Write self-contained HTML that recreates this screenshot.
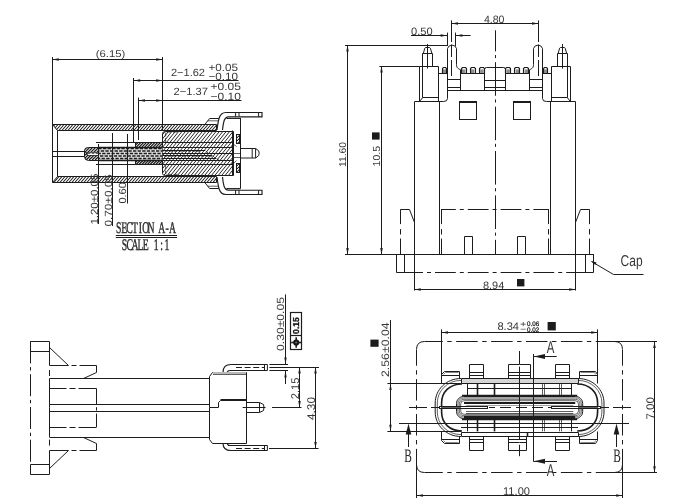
<!DOCTYPE html>
<html lang="en"><head><meta charset="utf-8"><title>Connector drawing</title>
<style>
html,body{margin:0;padding:0;background:#fff;}
body{width:690px;height:500px;overflow:hidden;}
svg{display:block;filter:grayscale(1);text-rendering:geometricPrecision;}
.l{stroke:#1c1c1c;stroke-width:1;fill:none;}
.k{stroke:#1c1c1c;stroke-width:1.6;fill:none;}
.kk{stroke:#1c1c1c;stroke-width:2.4;fill:none;}
.n{stroke:#1c1c1c;stroke-width:.7;fill:none;}
.g{stroke:#8a8a8a;stroke-width:1;fill:none;}
.h{stroke:#1c1c1c;stroke-width:1;}
.w{stroke:#1c1c1c;stroke-width:1;fill:#fff;}
.cd{stroke:#1c1c1c;stroke-width:1;fill:none;stroke-dasharray:17 3 3 3;}
.cs{stroke:#1c1c1c;stroke-width:1;fill:none;stroke-dasharray:8 3;}
.a{fill:#1c1c1c;stroke:none;}
.b{fill:#1c1c1c;stroke:none;}
.t{font-family:"Liberation Sans",sans-serif;fill:#383838;}
.ts{font-family:"Liberation Serif",serif;fill:#2a2a2a;}
.tb{font-family:"Liberation Sans",sans-serif;font-weight:bold;fill:#111;}
</style></head><body>
<svg width="690" height="500" viewBox="0 0 690 500">
<defs>
<pattern id="h3" width="2.2" height="2.2" patternUnits="userSpaceOnUse" patternTransform="rotate(-45)"><rect width="2.2" height="2.2" fill="#fff"/><line x1="0" y1="1" x2="2.2" y2="1" stroke="#1c1c1c" stroke-width=".9"/></pattern>
</defs>
<rect width="690" height="500" fill="#fff"/>
<g id="v1">
<clipPath id="c1"><path d="M57.5 130.5L52.5 124.5H216.5V130.5Z"/></clipPath>
<path d="M57.5 130.5L52.5 124.5H216.5V130.5Z" fill="#fff" stroke="none"/>
<path d="M43.90 130.5L49.00 124.5 M46.90 130.5L52.00 124.5 M49.90 130.5L55.00 124.5 M52.90 130.5L58.00 124.5 M55.90 130.5L61.00 124.5 M58.90 130.5L64.00 124.5 M61.90 130.5L67.00 124.5 M64.90 130.5L70.00 124.5 M67.90 130.5L73.00 124.5 M70.90 130.5L76.00 124.5 M73.90 130.5L79.00 124.5 M76.90 130.5L82.00 124.5 M79.90 130.5L85.00 124.5 M82.90 130.5L88.00 124.5 M85.90 130.5L91.00 124.5 M88.90 130.5L94.00 124.5 M91.90 130.5L97.00 124.5 M94.90 130.5L100.00 124.5 M97.90 130.5L103.00 124.5 M100.90 130.5L106.00 124.5 M103.90 130.5L109.00 124.5 M106.90 130.5L112.00 124.5 M109.90 130.5L115.00 124.5 M112.90 130.5L118.00 124.5 M115.90 130.5L121.00 124.5 M118.90 130.5L124.00 124.5 M121.90 130.5L127.00 124.5 M124.90 130.5L130.00 124.5 M127.90 130.5L133.00 124.5 M130.90 130.5L136.00 124.5 M133.90 130.5L139.00 124.5 M136.90 130.5L142.00 124.5 M139.90 130.5L145.00 124.5 M142.90 130.5L148.00 124.5 M145.90 130.5L151.00 124.5 M148.90 130.5L154.00 124.5 M151.90 130.5L157.00 124.5 M154.90 130.5L160.00 124.5 M157.90 130.5L163.00 124.5 M160.90 130.5L166.00 124.5 M163.90 130.5L169.00 124.5 M166.90 130.5L172.00 124.5 M169.90 130.5L175.00 124.5 M172.90 130.5L178.00 124.5 M175.90 130.5L181.00 124.5 M178.90 130.5L184.00 124.5 M181.90 130.5L187.00 124.5 M184.90 130.5L190.00 124.5 M187.90 130.5L193.00 124.5 M190.90 130.5L196.00 124.5 M193.90 130.5L199.00 124.5 M196.90 130.5L202.00 124.5 M199.90 130.5L205.00 124.5 M202.90 130.5L208.00 124.5 M205.90 130.5L211.00 124.5 M208.90 130.5L214.00 124.5 M211.90 130.5L217.00 124.5 M214.90 130.5L220.00 124.5 M217.90 130.5L223.00 124.5" stroke="#1c1c1c" stroke-width="1.05" fill="none" clip-path="url(#c1)"/>
<path class="l" d="M57.5 130.5L52.5 124.5H216.5V130.5Z"/>
<clipPath id="c2"><path d="M57.5 176.5L52.5 182.5H216.5V176.5Z"/></clipPath>
<path d="M57.5 176.5L52.5 182.5H216.5V176.5Z" fill="#fff" stroke="none"/>
<path d="M44.90 182.5L50.00 176.5 M47.90 182.5L53.00 176.5 M50.90 182.5L56.00 176.5 M53.90 182.5L59.00 176.5 M56.90 182.5L62.00 176.5 M59.90 182.5L65.00 176.5 M62.90 182.5L68.00 176.5 M65.90 182.5L71.00 176.5 M68.90 182.5L74.00 176.5 M71.90 182.5L77.00 176.5 M74.90 182.5L80.00 176.5 M77.90 182.5L83.00 176.5 M80.90 182.5L86.00 176.5 M83.90 182.5L89.00 176.5 M86.90 182.5L92.00 176.5 M89.90 182.5L95.00 176.5 M92.90 182.5L98.00 176.5 M95.90 182.5L101.00 176.5 M98.90 182.5L104.00 176.5 M101.90 182.5L107.00 176.5 M104.90 182.5L110.00 176.5 M107.90 182.5L113.00 176.5 M110.90 182.5L116.00 176.5 M113.90 182.5L119.00 176.5 M116.90 182.5L122.00 176.5 M119.90 182.5L125.00 176.5 M122.90 182.5L128.00 176.5 M125.90 182.5L131.00 176.5 M128.90 182.5L134.00 176.5 M131.90 182.5L137.00 176.5 M134.90 182.5L140.00 176.5 M137.90 182.5L143.00 176.5 M140.90 182.5L146.00 176.5 M143.90 182.5L149.00 176.5 M146.90 182.5L152.00 176.5 M149.90 182.5L155.00 176.5 M152.90 182.5L158.00 176.5 M155.90 182.5L161.00 176.5 M158.90 182.5L164.00 176.5 M161.90 182.5L167.00 176.5 M164.90 182.5L170.00 176.5 M167.90 182.5L173.00 176.5 M170.90 182.5L176.00 176.5 M173.90 182.5L179.00 176.5 M176.90 182.5L182.00 176.5 M179.90 182.5L185.00 176.5 M182.90 182.5L188.00 176.5 M185.90 182.5L191.00 176.5 M188.90 182.5L194.00 176.5 M191.90 182.5L197.00 176.5 M194.90 182.5L200.00 176.5 M197.90 182.5L203.00 176.5 M200.90 182.5L206.00 176.5 M203.90 182.5L209.00 176.5 M206.90 182.5L212.00 176.5 M209.90 182.5L215.00 176.5 M212.90 182.5L218.00 176.5 M215.90 182.5L221.00 176.5 M218.90 182.5L224.00 176.5" stroke="#1c1c1c" stroke-width="1.05" fill="none" clip-path="url(#c2)"/>
<path class="l" d="M57.5 176.5L52.5 182.5H216.5V176.5Z"/>
<path class="l" d="M52.5 124.5V182.5M57.5 130.5V176.5" />
<clipPath id="c3"><path d="M165.5 131.5H233.5V175.5H165.5Q162.5 175.5 162.5 173.5V133.5Q162.5 131.5 165.5 131.5Z"/></clipPath>
<path d="M165.5 131.5H233.5V175.5H165.5Q162.5 175.5 162.5 173.5V133.5Q162.5 131.5 165.5 131.5Z" fill="#fff" stroke="none"/>
<path d="M123.08 175.4L158.60 131 M126.48 175.4L162.00 131 M129.88 175.4L165.40 131 M133.28 175.4L168.80 131 M136.68 175.4L172.20 131 M140.08 175.4L175.60 131 M143.48 175.4L179.00 131 M146.88 175.4L182.40 131 M150.28 175.4L185.80 131 M153.68 175.4L189.20 131 M157.08 175.4L192.60 131 M160.48 175.4L196.00 131 M163.88 175.4L199.40 131 M167.28 175.4L202.80 131 M170.68 175.4L206.20 131 M174.08 175.4L209.60 131 M177.48 175.4L213.00 131 M180.88 175.4L216.40 131 M184.28 175.4L219.80 131 M187.68 175.4L223.20 131 M191.08 175.4L226.60 131 M194.48 175.4L230.00 131 M197.88 175.4L233.40 131 M201.28 175.4L236.80 131 M204.68 175.4L240.20 131 M208.08 175.4L243.60 131 M211.48 175.4L247.00 131 M214.88 175.4L250.40 131 M218.28 175.4L253.80 131 M221.68 175.4L257.20 131 M225.08 175.4L260.60 131 M228.48 175.4L264.00 131 M231.88 175.4L267.40 131 M235.28 175.4L270.80 131" stroke="#1c1c1c" stroke-width="0.95" fill="none" clip-path="url(#c3)"/>
<path class="l" d="M165.5 131.5H233.5V175.5H165.5Q162.5 175.5 162.5 173.5V133.5Q162.5 131.5 165.5 131.5Z"/>
<clipPath id="c4"><path d="M135.5 142.5H162.5V147.5H135.5Z"/></clipPath>
<path d="M135.5 142.5H162.5V147.5H135.5Z" fill="#fff" stroke="none"/>
<path d="M127.90 147.1L132.20 142.8 M130.70 147.1L135.00 142.8 M133.50 147.1L137.80 142.8 M136.30 147.1L140.60 142.8 M139.10 147.1L143.40 142.8 M141.90 147.1L146.20 142.8 M144.70 147.1L149.00 142.8 M147.50 147.1L151.80 142.8 M150.30 147.1L154.60 142.8 M153.10 147.1L157.40 142.8 M155.90 147.1L160.20 142.8 M158.70 147.1L163.00 142.8 M161.50 147.1L165.80 142.8 M164.30 147.1L168.60 142.8" stroke="#1c1c1c" stroke-width="1.25" fill="none" clip-path="url(#c4)"/>
<path class="l" d="M135.5 142.5H162.5V147.5H135.5Z"/>
<clipPath id="c5"><path d="M135.5 160.5H162.5V164.5H135.5Z"/></clipPath>
<path d="M135.5 160.5H162.5V164.5H135.5Z" fill="#fff" stroke="none"/>
<path d="M128.00 164.2L132.20 160 M130.80 164.2L135.00 160 M133.60 164.2L137.80 160 M136.40 164.2L140.60 160 M139.20 164.2L143.40 160 M142.00 164.2L146.20 160 M144.80 164.2L149.00 160 M147.60 164.2L151.80 160 M150.40 164.2L154.60 160 M153.20 164.2L157.40 160 M156.00 164.2L160.20 160 M158.80 164.2L163.00 160 M161.60 164.2L165.80 160 M164.40 164.2L168.60 160" stroke="#1c1c1c" stroke-width="1.25" fill="none" clip-path="url(#c5)"/>
<path class="l" d="M135.5 160.5H162.5V164.5H135.5Z"/>
<clipPath id="c6"><path d="M98.5 147.5H88.5Q84.5 147.5 84.5 150.5V156.5Q84.5 160.5 88.5 160.5H98.5Z"/></clipPath>
<path d="M98.5 147.5H88.5Q84.5 147.5 84.5 150.5V156.5Q84.5 160.5 88.5 160.5H98.5Z" fill="#fff" stroke="none"/>
<path d="M68.10 160L81.00 147.1 M71.10 160L84.00 147.1 M74.10 160L87.00 147.1 M77.10 160L90.00 147.1 M80.10 160L93.00 147.1 M83.10 160L96.00 147.1 M86.10 160L99.00 147.1 M89.10 160L102.00 147.1 M92.10 160L105.00 147.1 M95.10 160L108.00 147.1 M98.10 160L111.00 147.1 M101.10 160L114.00 147.1" stroke="#1c1c1c" stroke-width="1.3" fill="none" clip-path="url(#c6)"/>
<rect class="n" x="87.5" y="152.3" width="10.90" height="2.70"  style="fill:#fff;stroke:none"/>
<path class="l" d="M233.5 147.5H88.5Q84.5 147.5 84.5 150.5V156.5Q84.5 160.5 88.5 160.5H233.5" />
<line class="n" x1="87.5" y1="152.5" x2="98.4" y2="152.5" />
<line class="n" x1="87.5" y1="155.5" x2="98.4" y2="155.5" />
<rect x="98.4" y="147" width="64" height="13.2" fill="#dedede"/>
<line class="l" x1="98.4" y1="148.5" x2="162.4" y2="148.5"  style="stroke-width:1.35;stroke-dasharray:3.3 1.3;stroke-dashoffset:0"/>
<line class="l" x1="98.4" y1="151" x2="162.4" y2="151"  style="stroke-width:1.35;stroke-dasharray:3.3 1.3;stroke-dashoffset:2.2"/>
<line class="l" x1="98.4" y1="153.5" x2="162.4" y2="153.5"  style="stroke-width:1.35;stroke-dasharray:3.3 1.3;stroke-dashoffset:0.8"/>
<line class="l" x1="98.4" y1="156" x2="162.4" y2="156"  style="stroke-width:1.35;stroke-dasharray:3.3 1.3;stroke-dashoffset:3.0"/>
<line class="l" x1="98.4" y1="158.5" x2="162.4" y2="158.5"  style="stroke-width:1.35;stroke-dasharray:3.3 1.3;stroke-dashoffset:1.4"/>
<line class="k" x1="98.4" y1="147.5" x2="162.4" y2="147.5" />
<line class="k" x1="98.4" y1="160.5" x2="162.4" y2="160.5" />
<line class="l" x1="162.4" y1="151" x2="200" y2="151"  style="stroke-width:1.1;stroke-dasharray:3.3 1.3;stroke-dashoffset:2.2"/>
<line class="l" x1="162.4" y1="153.5" x2="206" y2="153.5"  style="stroke-width:1.1;stroke-dasharray:3.3 1.3;stroke-dashoffset:0.8"/>
<line class="l" x1="162.4" y1="156" x2="212" y2="156"  style="stroke-width:1.1;stroke-dasharray:3.3 1.3;stroke-dashoffset:3.0"/>
<line class="n" x1="88" y1="153.5" x2="98" y2="153.5"  style="stroke-dasharray:2.4 1.4"/>
<line class="l" x1="162.4" y1="150.5" x2="205" y2="150.5" />
<line class="l" x1="162.4" y1="155.5" x2="212" y2="155.5" />
<line class="l" x1="162.4" y1="153.5" x2="233" y2="153.5" />
<line class="l" x1="162.4" y1="158.5" x2="216" y2="158.5" />
<path class="n" d="M165.6 142V133.4Q165.6 132 167 132H178 M165.6 165V173Q165.6 174.4 167 174.4H178"  style="stroke-dasharray:4 1.5"/>
<line class="l" x1="135.4" y1="142.5" x2="233" y2="142.5" />
<line class="l" x1="135.4" y1="164.5" x2="233" y2="164.5" />
<path class="n" d="M84.5 152.5H87.5V154.5H84.5" />
<line class="l" x1="96" y1="142.5" x2="135.4" y2="142.5" />
<line class="l" x1="96" y1="164.5" x2="135.4" y2="164.5" />
<line class="l" x1="52.4" y1="151.5" x2="84.4" y2="151.5" />
<line class="l" x1="52.4" y1="156.5" x2="84.4" y2="156.5" />
<path class="n" d="M205.5 150.5L208.5 153.5M212.5 155.5L215.5 158.5M216.5 158.5L219.5 160.5" />
<line class="l" x1="240.5" y1="118" x2="240.5" y2="188.6" />
<path class="l" d="M232.5 130.5V175.5" />
<rect class="h" x="236.5" y="134.5" width="3.00" height="9.00"  style="fill:url(#h3)"/>
<rect class="h" x="236.5" y="163.5" width="3.00" height="9.00"  style="fill:url(#h3)"/>
<path class="n" d="M232.5 143.5L236.5 146.5M232.5 164.5L236.5 160.5" />
<line class="n" x1="233" y1="153.5" x2="240.5" y2="153.5" />
<line class="n" x1="233" y1="157.5" x2="240.5" y2="157.5" />
<path class="l" d="M240.5 148.5H255.6L258.6 150.7Q259.8 153.2 258.6 155.7L255.6 158H240.5 M252.2 148.5V158 M255.6 148.5V158" />
<path class="l" d="M217 130C217.5 126 218 122 219 118.5C220 115 222 112.5 226 112.5H262V116.8H228.5C226 116.8 224.8 118.5 224 121C223.2 124 222.8 127 222.5 130"  style="stroke-width:1.15"/>
<path class="l" d="M204.8 124.5L209.6 118.5H218.8" />
<line class="n" x1="207.8" y1="120.8" x2="218.4" y2="120.8" />
<line class="l" x1="226.5" y1="118.5" x2="240.5" y2="118.5" />
<line class="g" x1="228" y1="117.6" x2="240.5" y2="117.6" />
<line class="l" x1="235.6" y1="112.5" x2="235.6" y2="116.8" />
<line class="l" x1="239" y1="112.5" x2="239" y2="116.8" />
<line class="l" x1="258.6" y1="112.5" x2="258.6" y2="116.8" />
<path class="l" d="M217 177.0C217.5 181.0 218 185.0 219 188.5C220 192.0 222 194.5 226 194.5H262V190.2H228.5C226 190.2 224.8 188.5 224 186.0C223.2 183.0 222.8 180.0 222.5 177.0"  style="stroke-width:1.15"/>
<path class="l" d="M204.8 182.5L209.6 188.5H218.8" />
<line class="n" x1="207.8" y1="186.2" x2="218.4" y2="186.2" />
<line class="l" x1="226.5" y1="188.5" x2="240.5" y2="188.5" />
<line class="g" x1="228" y1="189.4" x2="240.5" y2="189.4" />
<line class="l" x1="235.6" y1="194.5" x2="235.6" y2="190.2" />
<line class="l" x1="239" y1="194.5" x2="239" y2="190.2" />
<line class="l" x1="258.6" y1="194.5" x2="258.6" y2="190.2" />
<line class="l" x1="52.5" y1="57" x2="52.5" y2="124.6" />
<line class="l" x1="162.5" y1="57" x2="162.5" y2="131" />
<line class="l" x1="52.4" y1="59.5" x2="162.6" y2="59.5" />
<polygon class="a" points="52.40,59.50 58.80,58.25 58.80,60.75"/>
<polygon class="a" points="162.60,59.50 156.20,58.25 156.20,60.75"/>
<text class="t" x="110.6" y="56.6" font-size="9.8" text-anchor="middle" textLength="29.6" lengthAdjust="spacingAndGlyphs" >(6.15)</text>
<line class="l" x1="133.5" y1="78" x2="133.5" y2="143" />
<line class="l" x1="133.8" y1="80.5" x2="238.5" y2="80.5" />
<polygon class="a" points="133.80,80.50 140.20,79.25 140.20,81.75"/>
<polygon class="a" points="162.60,80.50 156.20,79.25 156.20,81.75"/>
<text class="t" x="171" y="75.6" font-size="10.5" text-anchor="start" textLength="34" lengthAdjust="spacingAndGlyphs" >2−1.62</text>
<text class="t" x="208.4" y="70.8" font-size="10.5" text-anchor="start" textLength="29.6" lengthAdjust="spacingAndGlyphs" >+0.05</text>
<text class="t" x="208.4" y="80" font-size="10.5" text-anchor="start" textLength="29.6" lengthAdjust="spacingAndGlyphs" >−0.10</text>
<line class="l" x1="138.5" y1="97.6" x2="138.5" y2="140" />
<line class="l" x1="138.6" y1="100.5" x2="241.5" y2="100.5" />
<polygon class="a" points="138.60,100.50 145.00,99.25 145.00,101.75"/>
<polygon class="a" points="162.60,100.50 156.20,99.25 156.20,101.75"/>
<text class="t" x="173.6" y="95.4" font-size="10.5" text-anchor="start" textLength="34.4" lengthAdjust="spacingAndGlyphs" >2−1.37</text>
<text class="t" x="210.6" y="90.4" font-size="10.5" text-anchor="start" textLength="30.4" lengthAdjust="spacingAndGlyphs" >+0.05</text>
<text class="t" x="210.6" y="99.8" font-size="10.5" text-anchor="start" textLength="30.4" lengthAdjust="spacingAndGlyphs" >−0.10</text>
<line class="l" x1="98.5" y1="144" x2="98.5" y2="224" />
<line class="l" x1="112.5" y1="133" x2="112.5" y2="226" />
<line class="l" x1="127.5" y1="134" x2="127.5" y2="203.5" />
<text class="t" x="97.8" y="224.6" font-size="10.4" text-anchor="start" textLength="51" lengthAdjust="spacingAndGlyphs" transform="rotate(-90 97.8 224.6)" >1.20±0.05</text>
<text class="t" x="112" y="226.6" font-size="10.4" text-anchor="start" textLength="52.5" lengthAdjust="spacingAndGlyphs" transform="rotate(-90 112 226.6)" >0.70±0.05</text>
<text class="t" x="126.2" y="203.6" font-size="10.4" text-anchor="start" textLength="21.5" lengthAdjust="spacingAndGlyphs" transform="rotate(-90 126.2 203.6)" >0.60</text>
<text class="ts" transform="translate(116.1,232.7) scale(0.6,1)" font-size="16.2" text-anchor="middle" x="4.48 13.45 22.42 31.38 40.35 49.32 58.28 67.25 76.22 85.18 94.15" y="0" style="stroke:#2a2a2a;stroke-width:.4;vector-effect:non-scaling-stroke">SECTION A-A</text>
<line class="l" x1="115.8" y1="235.5" x2="177" y2="235.5" />
<line class="l" x1="115.8" y1="237.5" x2="177" y2="237.5" />
<text class="ts" transform="translate(121.8,249.8) scale(0.6,1)" font-size="16.2" text-anchor="middle" x="4.42 13.25 22.08 30.92 39.75 48.58 57.42 66.25 75.08" y="0" style="stroke:#2a2a2a;stroke-width:.4;vector-effect:non-scaling-stroke">SCALE 1:1</text>
</g>
<g id="v2">
<path class="l" d="M414.5 290.5V101.5H443.5Q447.5 101.5 447.5 98.5V48.5A4.7 4.7 0 0 1 456.5 48.5V64.5C456.5 68.5 458.5 68.5 461.5 70.5" />
<line class="l" x1="439.5" y1="101.5" x2="439.5" y2="254.4" />
<path class="l" d="M419.5 101.5V66.5H438.5V101.5" />
<path class="l" d="M422.5 66.5V97.5H438.5" />
<path class="l" d="M419.6 101.5L422.8 97.4" />
<path class="l" d="M422.5 66.5V53.5M432.5 53.5V66.5M422.5 53.5H432.5" />
<path class="l" d="M423.3 53.5L424.8 48.2L425.6 47.5H429.6L430.4 48.2L431.9 53.5" />
<line class="l" x1="427.5" y1="44" x2="427.5" y2="68.6" />
<rect x="442.8" y="69.4" width="3.40" height="4.4" fill="#8e8e8e"/>
<path class="l" d="M442.5 73.5V68.5L443.5 67.5H445.5L446.5 68.5V73.5"  style="stroke-width:1.15"/>
<rect x="461.8" y="69.4" width="3.60" height="4.4" fill="#8e8e8e"/>
<path class="l" d="M461.5 73.5V68.5L462.5 67.5H465.5L466.5 68.5V73.5"  style="stroke-width:1.15"/>
<rect x="470.8" y="69.4" width="3.60" height="4.4" fill="#8e8e8e"/>
<path class="l" d="M470.5 73.5V68.5L471.5 67.5H474.5L475.5 68.5V73.5"  style="stroke-width:1.15"/>
<rect x="480.2" y="69.4" width="3.40" height="4.4" fill="#8e8e8e"/>
<path class="l" d="M479.5 73.5V68.5L480.5 67.5H483.5L484.5 68.5V73.5"  style="stroke-width:1.15"/>
<line class="l" x1="438.4" y1="73.5" x2="447" y2="73.5" />
<line class="l" x1="460.4" y1="73.5" x2="484.4" y2="73.5" />
<line class="l" x1="460.5" y1="70" x2="460.5" y2="90" />
<line class="l" x1="447" y1="79.5" x2="460.4" y2="79.5" />
<line class="l" x1="447" y1="87.5" x2="460.4" y2="87.5" />
<line class="l" x1="447" y1="90.5" x2="495.5" y2="90.5" />
<path class="l" d="M484.5 90.5V69.5Q484.5 67.5 486.5 67.5H495.5M484.5 80.5H495.5M484.5 87.5H495.5" />
<rect class="l" x="459.5" y="101.5" width="17.00" height="18.00" />
<line class="l" x1="459.4" y1="102.5" x2="476" y2="102.5" />
<line class="l" x1="441.5" y1="209.4" x2="441.5" y2="254.4"  style="stroke-dasharray:14.7 5 5.4 4 20"/>
<path class="l" d="M464.5 254.5V236.5H472.5V254.5" />
<path class="l" d="M414.5 222.5L409.5 209.5H400.5" />
<line class="l" x1="400.5" y1="209.4" x2="400.5" y2="254.4"  style="stroke-dasharray:14.7 5 5.4 4 20"/>
<path class="l" d="M396.5 254.5V272.5H414.5M404.5 254.5V272.5" />
<line class="cd" x1="451.5" y1="20.4" x2="451.5" y2="76"  style="stroke-dasharray:21.6 2.5 12.5 3 16"/>
<g transform="translate(990,0) scale(-1,1)">
<path class="l" d="M414.5 290.5V101.5H443.5Q447.5 101.5 447.5 98.5V48.5A4.7 4.7 0 0 1 456.5 48.5V64.5C456.5 68.5 458.5 68.5 461.5 70.5" />
<line class="l" x1="439.5" y1="101.5" x2="439.5" y2="254.4" />
<path class="l" d="M419.5 101.5V66.5H438.5V101.5" />
<path class="l" d="M422.5 66.5V97.5H438.5" />
<path class="l" d="M419.6 101.5L422.8 97.4" />
<path class="l" d="M422.5 66.5V53.5M432.5 53.5V66.5M422.5 53.5H432.5" />
<path class="l" d="M423.3 53.5L424.8 48.2L425.6 47.5H429.6L430.4 48.2L431.9 53.5" />
<line class="l" x1="427.5" y1="44" x2="427.5" y2="68.6" />
<rect x="442.8" y="69.4" width="3.40" height="4.4" fill="#8e8e8e"/>
<path class="l" d="M442.5 73.5V68.5L443.5 67.5H445.5L446.5 68.5V73.5"  style="stroke-width:1.15"/>
<rect x="461.8" y="69.4" width="3.60" height="4.4" fill="#8e8e8e"/>
<path class="l" d="M461.5 73.5V68.5L462.5 67.5H465.5L466.5 68.5V73.5"  style="stroke-width:1.15"/>
<rect x="470.8" y="69.4" width="3.60" height="4.4" fill="#8e8e8e"/>
<path class="l" d="M470.5 73.5V68.5L471.5 67.5H474.5L475.5 68.5V73.5"  style="stroke-width:1.15"/>
<rect x="480.2" y="69.4" width="3.40" height="4.4" fill="#8e8e8e"/>
<path class="l" d="M479.5 73.5V68.5L480.5 67.5H483.5L484.5 68.5V73.5"  style="stroke-width:1.15"/>
<line class="l" x1="438.4" y1="73.5" x2="447" y2="73.5" />
<line class="l" x1="460.4" y1="73.5" x2="484.4" y2="73.5" />
<line class="l" x1="460.5" y1="70" x2="460.5" y2="90" />
<line class="l" x1="447" y1="79.5" x2="460.4" y2="79.5" />
<line class="l" x1="447" y1="87.5" x2="460.4" y2="87.5" />
<line class="l" x1="447" y1="90.5" x2="495.5" y2="90.5" />
<path class="l" d="M484.5 90.5V69.5Q484.5 67.5 486.5 67.5H495.5M484.5 80.5H495.5M484.5 87.5H495.5" />
<rect class="l" x="459.5" y="101.5" width="17.00" height="18.00" />
<line class="l" x1="459.4" y1="102.5" x2="476" y2="102.5" />
<line class="l" x1="441.5" y1="209.4" x2="441.5" y2="254.4"  style="stroke-dasharray:14.7 5 5.4 4 20"/>
<path class="l" d="M464.5 254.5V236.5H472.5V254.5" />
<path class="l" d="M414.5 222.5L409.5 209.5H400.5" />
<line class="l" x1="400.5" y1="209.4" x2="400.5" y2="254.4"  style="stroke-dasharray:14.7 5 5.4 4 20"/>
<path class="l" d="M396.5 254.5V272.5H414.5M404.5 254.5V272.5" />
<line class="cd" x1="451.5" y1="20.4" x2="451.5" y2="76"  style="stroke-dasharray:21.6 2.5 12.5 3 16"/>
</g>
<line class="l" x1="441" y1="209.5" x2="549" y2="209.5"  style="stroke-dasharray:20.8 4 4 4;stroke-dashoffset:6"/>
<line class="l" x1="414.4" y1="272.5" x2="575.6" y2="272.5"  style="stroke-dasharray:20.8 4 4 4;stroke-dashoffset:12.2"/>
<line class="l" x1="345" y1="254.5" x2="594" y2="254.5" />
<line class="cd" x1="495.5" y1="30.3" x2="495.5" y2="254.4"  style="stroke-dasharray:33.6 3.6 3.1 4.1;stroke-dashoffset:12.5"/>
<line class="l" x1="451.6" y1="23.5" x2="538.4" y2="23.5" />
<polygon class="a" points="451.60,23.50 458.00,22.25 458.00,24.75"/>
<polygon class="a" points="538.40,23.50 532.00,22.25 532.00,24.75"/>
<text class="t" x="494.2" y="23.2" font-size="10.6" text-anchor="middle" textLength="20.6" lengthAdjust="spacingAndGlyphs" >4.80</text>
<line class="l" x1="411" y1="35.5" x2="447" y2="35.5" />
<polygon class="a" points="447.00,35.50 440.60,34.25 440.60,36.75"/>
<line class="l" x1="456" y1="35.5" x2="470.6" y2="35.5" />
<polygon class="a" points="456.00,35.50 462.40,34.25 462.40,36.75"/>
<line class="l" x1="447.5" y1="32.6" x2="447.5" y2="46" />
<line class="l" x1="455.5" y1="32.6" x2="455.5" y2="46" />
<text class="t" x="411" y="35.3" font-size="10.6" text-anchor="start" textLength="21.6" lengthAdjust="spacingAndGlyphs" >0.50</text>
<line class="l" x1="345" y1="45.5" x2="447" y2="45.5" />
<line class="l" x1="347.5" y1="45.2" x2="347.5" y2="254.4" />
<polygon class="a" points="347.50,45.20 346.25,51.60 348.75,51.60"/>
<polygon class="a" points="347.50,254.40 346.25,248.00 348.75,248.00"/>
<line class="l" x1="379.4" y1="66.5" x2="419.6" y2="66.5" />
<line class="l" x1="381.5" y1="66" x2="381.5" y2="254.4" />
<polygon class="a" points="381.50,66.00 380.25,72.40 382.75,72.40"/>
<polygon class="a" points="381.50,254.40 380.25,248.00 382.75,248.00"/>
<text class="t" x="346.3" y="167" font-size="10" text-anchor="start" textLength="25" lengthAdjust="spacingAndGlyphs" transform="rotate(-90 346.3 167)" >11.60</text>
<text class="t" x="380.2" y="166.4" font-size="10.2" text-anchor="start" textLength="20.4" lengthAdjust="spacingAndGlyphs" transform="rotate(-90 380.2 166.4)" >10.5</text>
<rect class="b" x="372" y="132.4" width="7.60" height="7.20" />
<line class="l" x1="414.4" y1="289.5" x2="575.6" y2="289.5" />
<polygon class="a" points="414.40,289.50 420.80,288.25 420.80,290.75"/>
<polygon class="a" points="575.60,289.50 569.20,288.25 569.20,290.75"/>
<text class="t" x="483" y="289" font-size="10.6" text-anchor="start" textLength="21.3" lengthAdjust="spacingAndGlyphs" >8.94</text>
<rect class="b" x="517" y="279" width="7.40" height="7.40" />
<path class="l" d="M591.5 261.5L613.5 274.5H643.5" />
<polygon class="a" points="591.2,261 596.6,262.6 595.2,265"/>
<text class="t" x="620.6" y="266.4" font-size="15.6" text-anchor="start" textLength="22" lengthAdjust="spacingAndGlyphs" >Cap</text>
</g>
<g id="v3">
<path class="l" d="M30.5 351.5V341.5H49.5V365.5M30.5 351.5H49.5" />
<line class="l" x1="49.5" y1="370" x2="49.5" y2="376" />
<line class="l" x1="49.5" y1="378.4" x2="49.5" y2="407.8" />
<path class="l" d="M49.5 347.5L68.5 365.5H49.5" />
<path class="cd" d="M68.5 365.5H96.5"  style="stroke-dasharray:0 3 5 3 40"/>
<path class="l" d="M96.5 365.5V372.5L83.5 378.5" />
<line class="l" x1="49.6" y1="378.5" x2="209.4" y2="378.5" />
<path class="cd" d="M49.5 388.5H96.5"  style="stroke-dasharray:17 3 6 3 60"/>
<line class="l" x1="49.6" y1="404.5" x2="209.4" y2="404.5" />
<path class="l" d="M209.5 407.5V376.5L212.5 372.5H246.5V407.5" />
<path class="l" d="M30.5 464.5V474.5H49.5V450.5M30.5 464.5H49.5" />
<line class="l" x1="49.5" y1="445.6" x2="49.5" y2="439.6" />
<line class="l" x1="49.5" y1="437.2" x2="49.5" y2="407.8" />
<path class="l" d="M49.5 468.5L68.5 450.5H49.5" />
<path class="cd" d="M68.5 450.5H96.5"  style="stroke-dasharray:0 3 5 3 40"/>
<path class="l" d="M96.5 450.5V443.5L83.5 437.5" />
<line class="l" x1="49.6" y1="437.5" x2="209.4" y2="437.5" />
<path class="cd" d="M49.5 427.5H96.5"  style="stroke-dasharray:17 3 6 3 60"/>
<line class="l" x1="49.6" y1="411.5" x2="209.4" y2="411.5" />
<path class="l" d="M209.5 407.5V439.5L212.5 443.5H246.5V407.5" />
<path class="l" d="M223 372.4C223 366.80 226 364.5 231 364.5H267.4"  style="stroke-width:1.15"/>
<path class="l" d="M227 372.4C227.4 371.45 228.4 370.5 230 370.5H267.4"  style="stroke-width:1.15"/>
<line class="l" x1="236" y1="367.5" x2="264" y2="367.5"  style="stroke-dasharray:6 2.6"/>
<line class="l" x1="264.5" y1="364.5" x2="264.5" y2="370.5" />
<line class="l" x1="267.4" y1="364.5" x2="267.4" y2="370.5" />
<path class="l" d="M223 443.2C223 448.70 226 450.5 231 450.5H267.4"  style="stroke-width:1.15"/>
<path class="l" d="M227 443.2C227.4 444.35 228.4 445.5 230 445.5H267.4"  style="stroke-width:1.15"/>
<line class="l" x1="236" y1="448.5" x2="264" y2="448.5"  style="stroke-dasharray:6 2.6"/>
<line class="l" x1="264.5" y1="450.5" x2="264.5" y2="445.5" />
<line class="l" x1="267.4" y1="450.5" x2="267.4" y2="445.5" />
<line class="l" x1="30.5" y1="341.4" x2="30.5" y2="474.2"  style="stroke-dasharray:22 3.7 3.4 3.7"/>
<line class="l" x1="96.5" y1="388.6" x2="96.5" y2="427"  style="stroke-dasharray:15.6 3 3.4 3 14"/>
<rect class="b" x="213" y="372" width="33.00" height="2.00"  style="fill:#b9b9b9"/>
<line class="n" x1="213" y1="374.5" x2="246" y2="374.5" />
<path class="l" d="M209.5 407.5H218.5V402.5L220.5 400.5H246.5" />
<line class="l" x1="220.5" y1="399.5" x2="246" y2="399.5" />
<path class="l" d="M246.5 402.5H259.5L263.5 404.5Q264.5 407.5 263.5 410.5L259.5 412.5H246.5M259.5 402.5V412.5" />
<line class="l" x1="242.6" y1="407.5" x2="265.5" y2="407.5" />
<line class="l" x1="272" y1="407.5" x2="301.5" y2="407.5" />
<line class="l" x1="269.4" y1="364.5" x2="288" y2="364.5" />
<line class="l" x1="269.4" y1="367.5" x2="319" y2="367.5" />
<line class="l" x1="269.4" y1="370.5" x2="288" y2="370.5" />
<line class="l" x1="285.5" y1="294.4" x2="285.5" y2="364.4" />
<polygon class="a" points="285.50,364.00 284.30,357.50 286.70,357.50"/>
<line class="l" x1="285.5" y1="371" x2="285.5" y2="384" />
<polygon class="a" points="285.50,371.00 284.30,377.50 286.70,377.50"/>
<text class="t" x="283.8" y="351" font-size="10.4" text-anchor="start" textLength="54" lengthAdjust="spacingAndGlyphs" transform="rotate(-90 283.8 351)" >0.30±0.05</text>
<line class="l" x1="299.5" y1="367.2" x2="299.5" y2="407.4" />
<polygon class="a" points="299.50,367.20 298.25,373.60 300.75,373.60"/>
<polygon class="a" points="299.50,407.40 298.25,401.00 300.75,401.00"/>
<text class="t" x="298.8" y="399.2" font-size="11.2" text-anchor="start" textLength="21.7" lengthAdjust="spacingAndGlyphs" transform="rotate(-90 298.8 399.2)" >2.15</text>
<line class="l" x1="315.5" y1="367.2" x2="315.5" y2="448.3" />
<polygon class="a" points="315.50,367.20 314.25,373.60 316.75,373.60"/>
<polygon class="a" points="315.50,448.30 314.25,441.90 316.75,441.90"/>
<text class="t" x="314.8" y="420" font-size="11.2" text-anchor="start" textLength="23" lengthAdjust="spacingAndGlyphs" transform="rotate(-90 314.8 420)" >4.30</text>
<line class="l" x1="269" y1="448.5" x2="318.6" y2="448.5" />
<rect class="l" x="290.5" y="312.5" width="11.00" height="37.00"  style="stroke-width:1.2"/>
<line class="l" x1="290.6" y1="335.5" x2="301.8" y2="335.5"  style="stroke-width:1.2"/>
<text class="tb" x="299.1" y="333.9" font-size="8.6" text-anchor="start" textLength="16.8" lengthAdjust="spacingAndGlyphs" transform="rotate(-90 299.1 333.9)" style="stroke:#111;stroke-width:.35">0.15</text>
<circle cx="296.2" cy="342.5" r="3.1" fill="#111"/>
<line class="k" x1="296.2" y1="337.3" x2="296.2" y2="347.7" />
<line class="k" x1="291.2" y1="342.5" x2="301.2" y2="342.5" />
<line class="n" x1="296.2" y1="341.4" x2="296.2" y2="343.6"  style="stroke:#777"/>
<line class="n" x1="295.1" y1="342.5" x2="297.3" y2="342.5"  style="stroke:#777"/>
</g>
<g id="v4">
<line class="l" x1="424.6" y1="341.5" x2="614.6" y2="341.5"  style="stroke-dasharray:21.5 4.5 4.4 4.5;stroke-dashoffset:3.3"/>
<line class="l" x1="424.6" y1="472.5" x2="614.6" y2="472.5"  style="stroke-dasharray:21.5 4.5 4.4 4.5;stroke-dashoffset:3.3"/>
<line class="l" x1="416.5" y1="349.7" x2="416.5" y2="464.7"  style="stroke-dasharray:21.5 4.5 4.4 4.5;stroke-dashoffset:5.5"/>
<line class="l" x1="622.5" y1="349.7" x2="622.5" y2="464.7"  style="stroke-dasharray:21.5 4.5 4.4 4.5;stroke-dashoffset:5.5"/>
<path class="l" d="M416.5 349.5Q416.5 341.5 424.5 341.5M614.5 341.5Q622.5 341.5 622.5 349.5M622.5 464.5Q622.5 472.5 614.5 472.5M424.5 472.5Q416.5 472.5 416.5 464.5" />
<path class="l" d="M461 378.5C446 378.5 435.2 390 435.2 403V407.5" />
<path class="n" d="M461 380.4C447.4 380.4 437.3 391 437.3 403V407.5" />
<path class="k" d="M462 384C449.5 384 441.6 392 441.6 403V407.5" />
<path class="l" d="M519.5 378.5H461.5V383.5H519.5"  style="fill:#d6d6d6"/>
<path class="l" d="M441.5 383.5V374.5L444.5 371.5H459.5V378.5" />
<path class="g" d="M443.5 374.5L445.5 372.5H458.5" />
<line class="l" x1="441.6" y1="375.5" x2="459.6" y2="375.5" />
<path class="l" d="M469.5 378.5V364.5H483.5V378.5M469.5 372.5H483.5M469.5 375.5H483.5" />
<path class="l" d="M508.5 378.5V364.5H519.5M508.5 372.5H519.5M508.5 375.5H519.5" />
<line class="l" x1="467.5" y1="383.6" x2="467.5" y2="396.4" />
<line class="l" x1="467.6" y1="388.5" x2="519.6" y2="388.5" />
<line class="k" x1="462" y1="395.5" x2="519.6" y2="395.5" />
<path class="l" d="M461 436.5C446 436.5 435.2 425.0 435.2 412.0V407.5" />
<path class="n" d="M461 434.6C447.4 434.6 437.3 424.0 437.3 412.0V407.5" />
<path class="k" d="M462 431.0C449.5 431.0 441.6 423.0 441.6 412.0V407.5" />
<path class="l" d="M519.5 436.5H461.5V432.5H519.5"  style="fill:#fff"/>
<path class="l" d="M441.5 431.5V440.5L444.5 443.5H459.5V436.5" />
<path class="g" d="M443.5 440.5L445.5 442.5H458.5" />
<line class="l" x1="441.6" y1="439.5" x2="459.6" y2="439.5" />
<path class="l" d="M469.5 436.5V450.5H483.5V436.5M469.5 442.5H483.5M469.5 439.5H483.5" />
<path class="l" d="M508.5 436.5V450.5H519.5M508.5 442.5H519.5M508.5 439.5H519.5" />
<line class="l" x1="467.5" y1="431.4" x2="467.5" y2="418.6" />
<line class="k" x1="462" y1="419.5" x2="519.6" y2="419.5" />
<path class="l" d="M578.2 378.5C593.2 378.5 604.0 390 604.0 403V407.5" />
<path class="n" d="M578.2 380.4C591.8 380.4 601.9 391 601.9 403V407.5" />
<path class="k" d="M577.2 384C589.7 384 597.6 392 597.6 403V407.5" />
<path class="l" d="M519.5 378.5H578.5V383.5H519.5"  style="fill:#d6d6d6"/>
<path class="l" d="M597.5 383.5V374.5L595.5 371.5H579.5V378.5" />
<path class="g" d="M595.5 374.5L594.5 372.5H580.5" />
<line class="l" x1="597.6" y1="375.5" x2="579.6" y2="375.5" />
<path class="l" d="M569.5 378.5V364.5H555.5V378.5M569.5 372.5H555.5M569.5 375.5H555.5" />
<path class="l" d="M530.5 378.5V364.5H519.5M530.5 372.5H519.5M530.5 375.5H519.5" />
<line class="l" x1="571.5" y1="383.6" x2="571.5" y2="396.4" />
<line class="l" x1="571.6" y1="388.5" x2="519.6" y2="388.5" />
<line class="k" x1="577.2" y1="395.5" x2="519.6" y2="395.5" />
<path class="l" d="M578.2 436.5C593.2 436.5 604.0 425.0 604.0 412.0V407.5" />
<path class="n" d="M578.2 434.6C591.8 434.6 601.9 424.0 601.9 412.0V407.5" />
<path class="k" d="M577.2 431.0C589.7 431.0 597.6 423.0 597.6 412.0V407.5" />
<path class="l" d="M519.5 436.5H578.5V432.5H519.5"  style="fill:#fff"/>
<path class="l" d="M597.5 431.5V440.5L595.5 443.5H579.5V436.5" />
<path class="g" d="M595.5 440.5L594.5 442.5H580.5" />
<line class="l" x1="597.6" y1="439.5" x2="579.6" y2="439.5" />
<path class="l" d="M569.5 436.5V450.5H555.5V436.5M569.5 442.5H555.5M569.5 439.5H555.5" />
<path class="l" d="M526.5 436.5V450.5H519.5M526.5 442.5H519.5M526.5 439.5H519.5" />
<line class="l" x1="571.5" y1="431.4" x2="571.5" y2="418.6" />
<line class="k" x1="577.2" y1="419.5" x2="519.6" y2="419.5" />
<line class="k" x1="477.5" y1="383.6" x2="477.5" y2="395.6" />
<line class="k" x1="494.5" y1="383.6" x2="494.5" y2="395.6" />
<line class="n" x1="542.5" y1="383.6" x2="542.5" y2="395.6" />
<line class="n" x1="544.5" y1="383.6" x2="544.5" y2="395.6" />
<line class="n" x1="559.5" y1="383.6" x2="559.5" y2="395.6" />
<line class="n" x1="561.5" y1="383.6" x2="561.5" y2="395.6" />
<line class="k" x1="477.5" y1="419.4" x2="477.5" y2="431.4" />
<line class="k" x1="494.5" y1="419.4" x2="494.5" y2="431.4" />
<line class="n" x1="542.5" y1="419.4" x2="542.5" y2="431.4" />
<line class="n" x1="544.5" y1="419.4" x2="544.5" y2="431.4" />
<line class="n" x1="559.5" y1="419.4" x2="559.5" y2="431.4" />
<line class="n" x1="561.5" y1="419.4" x2="561.5" y2="431.4" />
<rect class="l" x="456.5" y="396.5" width="126.20" height="22.00" rx="7" ry="7"/>
<rect class="n" x="457.9" y="397.9" width="123.40" height="19.20" rx="5.8" ry="5.8"/>
<rect class="n" x="459.3" y="399.3" width="120.60" height="16.40" rx="4.6" ry="4.6"/>
<rect class="n" x="460.7" y="400.7" width="117.80" height="13.60" rx="3.4" ry="3.4"/>
<rect class="b" x="464" y="402" width="111.20" height="2.00" />
<rect class="b" x="464" y="416" width="111.20" height="3.00" />
<line class="n" x1="466" y1="411.5" x2="573.2" y2="411.5" />
<line class="n" x1="466" y1="413.5" x2="573.2" y2="413.5" />
<line class="n" x1="466" y1="405.5" x2="573.2" y2="405.5"  style="stroke:#777"/>
<line class="l" x1="409" y1="407.5" x2="442" y2="407.5"  style="stroke-dasharray:18 4"/>
<line class="l" x1="631" y1="407.5" x2="597" y2="407.5"  style="stroke-dasharray:18 4"/>
<line class="l" x1="489" y1="407.5" x2="551" y2="407.5"  style="stroke-dasharray:11 5;stroke-dashoffset:5"/>
<line class="l" x1="519.5" y1="351" x2="519.5" y2="364.2" />
<line class="l" x1="519.5" y1="366.6" x2="519.5" y2="440" />
<line class="l" x1="519.5" y1="444.8" x2="519.5" y2="456.2" />
<rect class="w" x="439.5" y="406.5" width="48.00" height="2.00" />
<rect class="w" x="551.5" y="406.5" width="49.00" height="2.00" />
<line class="n" x1="441" y1="407.5" x2="461" y2="407.5" />
<line class="n" x1="578" y1="407.5" x2="598" y2="407.5" />
<line class="k" x1="527.5" y1="432" x2="527.5" y2="436.4" />
<line class="l" x1="533.5" y1="354" x2="533.5" y2="461.5" />
<line class="l" x1="533.5" y1="356.5" x2="556.7" y2="356.5" />
<polygon class="a" points="533.8,356.4 545,353.9 545,358.9"/>
<line class="l" x1="533.5" y1="461.5" x2="557" y2="461.5" />
<polygon class="a" points="533.8,461.3 545,458.8 545,463.8"/>
<text class="t" x="546.8" y="353.4" font-size="17.2" text-anchor="start" textLength="7.6" lengthAdjust="spacingAndGlyphs" >A</text>
<text class="t" x="546.8" y="475.8" font-size="17.2" text-anchor="start" textLength="7.6" lengthAdjust="spacingAndGlyphs" >A</text>
<line class="l" x1="408.5" y1="447" x2="408.5" y2="430" />
<polygon class="a" points="408.5,423.4 405.7,434.6 411.3,434.6"/>
<line class="l" x1="616.5" y1="447" x2="616.5" y2="430" />
<polygon class="a" points="616.5,423.4 613.7,434.6 619.3,434.6"/>
<text class="ts" x="404.2" y="461.6" font-size="19" text-anchor="start" textLength="7.6" lengthAdjust="spacingAndGlyphs" >B</text>
<text class="ts" x="613.2" y="461.6" font-size="19" text-anchor="start" textLength="7.6" lengthAdjust="spacingAndGlyphs" >B</text>
<line class="l" x1="387.4" y1="383.5" x2="461" y2="383.5" />
<line class="l" x1="399" y1="423.5" x2="629" y2="423.5" />
<line class="l" x1="387.4" y1="431.5" x2="461" y2="431.5" />
<line class="l" x1="461" y1="427.5" x2="578" y2="427.5" />
<line class="l" x1="390.5" y1="320" x2="390.5" y2="431.2" />
<polygon class="a" points="390.50,383.40 389.30,389.90 391.70,389.90"/>
<polygon class="a" points="390.50,431.20 389.30,424.70 391.70,424.70"/>
<text class="t" x="389" y="377" font-size="10.8" text-anchor="start" textLength="54.6" lengthAdjust="spacingAndGlyphs" transform="rotate(-90 389 377)" >2.56±0.04</text>
<rect class="b" x="370.4" y="339.6" width="8.20" height="7.20" />
<line class="l" x1="441.5" y1="329.4" x2="441.5" y2="378" />
<line class="l" x1="597.5" y1="329.4" x2="597.5" y2="378" />
<line class="l" x1="441.6" y1="332.5" x2="597.6" y2="332.5" />
<polygon class="a" points="441.60,332.50 448.00,331.25 448.00,333.75"/>
<polygon class="a" points="597.60,332.50 591.20,331.25 591.20,333.75"/>
<text class="t" x="497.4" y="330" font-size="11" text-anchor="start" textLength="21.6" lengthAdjust="spacingAndGlyphs" >8.34</text>
<text class="t" x="520" y="327" font-size="8.6" text-anchor="start" textLength="6.4" lengthAdjust="spacingAndGlyphs" >+</text>
<text class="t" x="520" y="332.4" font-size="8.6" text-anchor="start" textLength="6.4" lengthAdjust="spacingAndGlyphs" >−</text>
<text class="t" x="527" y="326.2" font-size="6.6" text-anchor="start" textLength="12.2" lengthAdjust="spacingAndGlyphs" style="fill:#111;stroke:#222;stroke-width:.25">0.06</text>
<text class="t" x="527" y="331.6" font-size="6.6" text-anchor="start" textLength="12.2" lengthAdjust="spacingAndGlyphs" style="fill:#111;stroke:#222;stroke-width:.25">0.02</text>
<rect class="b" x="547.6" y="322" width="8.20" height="8.40" />
<line class="l" x1="612" y1="341.5" x2="657" y2="341.5" />
<line class="l" x1="612" y1="472.5" x2="657" y2="472.5" />
<line class="l" x1="654.5" y1="341.7" x2="654.5" y2="472.7" />
<polygon class="a" points="654.50,341.70 653.25,348.10 655.75,348.10"/>
<polygon class="a" points="654.50,472.70 653.25,466.30 655.75,466.30"/>
<text class="t" x="653.6" y="419.6" font-size="11" text-anchor="start" textLength="22.6" lengthAdjust="spacingAndGlyphs" transform="rotate(-90 653.6 419.6)" >7.00</text>
<line class="l" x1="416.5" y1="464" x2="416.5" y2="498" />
<line class="l" x1="622.5" y1="464" x2="622.5" y2="498" />
<line class="l" x1="416.6" y1="495.5" x2="622.6" y2="495.5" />
<polygon class="a" points="416.60,495.50 423.00,494.25 423.00,496.75"/>
<polygon class="a" points="622.60,495.50 616.20,494.25 616.20,496.75"/>
<text class="t" x="503" y="494.9" font-size="11.2" text-anchor="start" textLength="27" lengthAdjust="spacingAndGlyphs" >11.00</text>
</g>
</svg>
</body></html>
